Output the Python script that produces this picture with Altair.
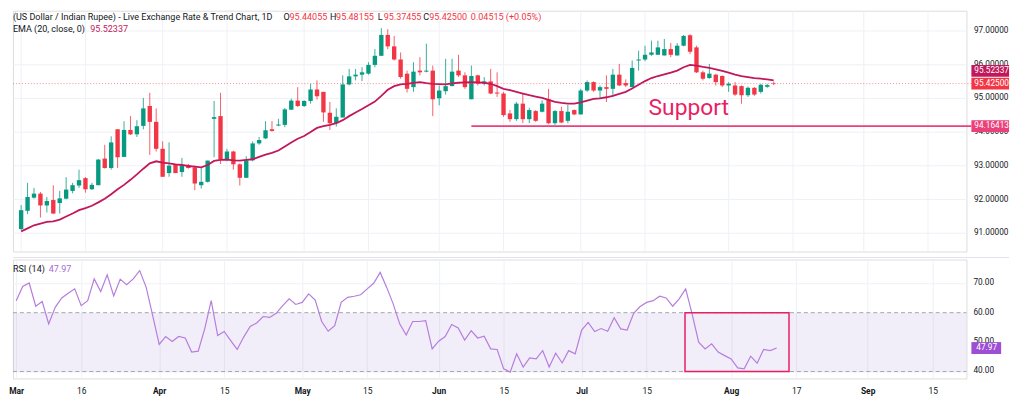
import json
import altair as alt
import pandas as pd

# ---------------- data ----------------
opens = [91.11, 91.65, 92.04, 92.16, 91.81, 91.97, 91.88, 92.01, 92.24, 92.40,
         92.62, 92.29, 92.41, 93.20, 92.92, 94.07, 93.25, 94.05, 93.92, 94.17,
         94.76, 94.29, 93.49, 92.77, 93.02, 92.80, 93.00, 92.94, 92.41, 92.51,
         94.38, 94.46, 93.18, 93.41, 93.03, 92.63, 93.15, 93.65, 93.80, 94.07,
         94.18, 94.20, 94.65, 94.92, 94.76, 94.91, 95.25, 95.18, 94.56, 94.25,
         94.42, 95.40, 95.64, 95.69, 95.72, 95.98, 96.25, 96.87, 96.53, 96.14,
         95.72, 95.32, 95.81, 95.78, 95.81, 94.99, 95.20, 95.35, 95.81, 95.67,
         94.96, 95.67, 95.42, 95.49, 95.16, 95.13, 94.54, 94.37, 94.83, 94.37,
         94.61, 94.59, 94.96, 94.25, 94.61, 94.32, 94.64, 94.51, 95.22, 95.47,
         95.22, 95.32, 95.27, 95.69, 95.44, 95.32, 96.11, 96.14, 96.28, 96.28,
         96.26, 96.45, 96.26, 96.55, 96.86, 96.50, 95.76, 95.59, 95.69, 95.65,
         95.37, 95.37, 95.35, 95.08, 95.30, 95.18, 95.33, 95.44055]
highs = [91.82, 92.48, 92.33, 92.21, 92.06, 92.41, 92.24, 92.65, 92.48, 92.87,
         92.65, 92.48, 93.19, 93.61, 93.86, 94.07, 94.31, 94.46, 94.34, 95.00,
         95.15, 94.69, 93.71, 93.68, 93.04, 93.22, 93.04, 92.99, 92.92, 93.14,
         94.91, 95.15, 93.49, 93.43, 93.06, 93.27, 93.71, 93.84, 94.31, 94.31,
         94.38, 94.70, 94.98, 95.32, 94.93, 95.42, 95.52, 95.18, 94.88, 94.69,
         95.67, 95.86, 95.86, 95.91, 96.06, 96.45, 97.07, 97.04, 96.84, 96.35,
         95.81, 96.06, 96.21, 96.61, 95.96, 95.37, 96.16, 96.16, 96.28, 95.76,
         95.96, 95.69, 95.62, 95.86, 95.76, 95.18, 94.64, 94.88, 95.13, 94.71,
         94.64, 94.93, 95.27, 94.64, 94.74, 94.79, 94.66, 95.27, 95.52, 95.49,
         95.37, 95.67, 95.86, 96.01, 95.55, 96.11, 96.40, 96.55, 96.70, 96.70,
         96.75, 96.63, 96.63, 96.87, 96.89, 96.55, 95.81, 96.01, 95.72, 95.67,
         95.47, 95.47, 95.37, 95.34, 95.32, 95.42, 95.42, 95.48155]
lows = [91.08, 91.55, 92.01, 91.45, 91.60, 91.55, 91.57, 91.99, 92.17, 92.33,
        92.19, 92.27, 92.41, 92.90, 92.87, 92.92, 93.25, 93.90, 93.84, 94.07,
        93.31, 93.41, 92.66, 92.66, 92.77, 92.66, 92.90, 92.26, 92.31, 92.49,
        93.24, 93.04, 93.12, 92.87, 92.40, 92.63, 93.12, 93.61, 93.78, 94.00,
        94.16, 94.13, 94.65, 94.73, 94.73, 94.83, 94.95, 94.29, 94.05, 94.15,
        94.42, 95.37, 95.52, 95.50, 95.69, 95.91, 96.25, 96.45, 96.11, 95.57,
        95.16, 95.18, 95.67, 95.76, 94.46, 94.78, 95.10, 95.35, 95.62, 95.27,
        94.96, 95.37, 95.37, 95.11, 95.03, 94.44, 94.29, 94.32, 94.25, 94.25,
        94.29, 94.57, 94.22, 94.20, 94.25, 94.25, 94.49, 94.51, 95.18, 95.18,
        94.98, 94.88, 95.03, 95.35, 95.32, 95.32, 95.81, 96.09, 96.25, 96.28,
        96.26, 96.21, 96.26, 96.53, 96.30, 95.74, 95.52, 95.57, 95.37, 95.32,
        95.18, 95.06, 94.83, 95.03, 95.06, 95.13, 95.30, 95.37455]
closes = [91.67, 92.06, 92.16, 91.81, 91.94, 91.57, 92.02, 92.28, 92.41, 92.56,
          92.29, 92.42, 93.17, 92.92, 93.68, 93.24, 94.05, 93.92, 94.16, 94.69,
          94.29, 93.49, 92.66, 92.99, 92.77, 92.99, 92.92, 92.46, 92.51, 93.14,
          94.43, 93.18, 93.41, 93.03, 92.63, 93.15, 93.65, 93.75, 94.04, 94.02,
          94.21, 94.66, 94.92, 94.76, 94.91, 95.25, 95.05, 94.57, 94.25, 94.44,
          95.40, 95.64, 95.69, 95.76, 95.98, 96.25, 96.87, 96.53, 96.14, 95.62,
          95.27, 95.78, 95.76, 95.81, 94.96, 95.22, 95.35, 95.78, 95.67, 95.32,
          95.65, 95.42, 95.49, 95.13, 95.13, 94.49, 94.37, 94.83, 94.37, 94.64,
          94.32, 94.83, 94.25, 94.61, 94.27, 94.59, 94.51, 95.22, 95.47, 95.22,
          95.32, 95.27, 95.69, 95.37, 95.37, 95.89, 96.14, 96.28, 96.35, 96.50,
          96.45, 96.28, 96.55, 96.84, 96.37, 95.76, 95.57, 95.72, 95.47, 95.37,
          95.42, 95.10, 95.08, 95.30, 95.10, 95.39, 95.37985, 95.42500]
ema20 = [91.04, 91.13, 91.22, 91.27, 91.32, 91.34, 91.39, 91.48, 91.57, 91.67,
         91.73, 91.80, 91.90, 92.01, 92.14, 92.29, 92.42, 92.57, 92.73, 92.90,
         93.06, 93.12, 93.08, 93.06, 93.03, 93.01, 92.98, 92.96, 92.94, 93.01,
         93.13, 93.16, 93.17, 93.15, 93.14, 93.16, 93.18, 93.25, 93.32, 93.37,
         93.44, 93.56, 93.68, 93.79, 93.87, 93.99, 94.11, 94.16, 94.20, 94.25,
         94.34, 94.46, 94.57, 94.67, 94.78, 94.89, 95.06, 95.24, 95.35, 95.40,
         95.42, 95.45, 95.47, 95.44, 95.42, 95.41, 95.40, 95.43, 95.45, 95.46,
         95.47, 95.46, 95.45, 95.42, 95.35, 95.27, 95.23, 95.18, 95.13, 95.08,
         95.04, 95.00, 94.94, 94.88, 94.85, 94.83, 94.83, 94.87, 94.92, 94.97,
         94.99, 95.02, 95.06, 95.12, 95.18, 95.28, 95.39, 95.50, 95.59, 95.65,
         95.70, 95.75, 95.81, 95.91, 95.98, 95.96, 95.92, 95.89, 95.85, 95.80,
         95.75, 95.69, 95.65, 95.62, 95.59, 95.57, 95.55, 95.52337]
rsi14 = [64.1, 68.9, 70.1, 62.2, 63.8, 56.2, 61.8, 65.0, 66.6, 68.1,
         62.4, 64.1, 71.5, 67.2, 72.9, 65.7, 71.4, 69.5, 71.5, 74.3,
         68.6, 59.0, 49.2, 51.9, 50.2, 51.9, 51.4, 46.6, 46.9, 54.5,
         64.1, 52.2, 53.6, 50.5, 47.5, 51.7, 55.3, 56.5, 58.7, 58.4,
         59.8, 62.4, 64.7, 62.8, 63.5, 66.4, 64.3, 57.0, 53.7, 55.6,
         63.5, 65.2, 65.6, 66.1, 68.1, 70.0, 73.7, 68.6, 63.0, 56.2,
         52.4, 57.0, 57.0, 57.3, 47.7, 50.3, 51.9, 56.0, 54.8, 50.7,
         53.9, 51.4, 52.0, 47.7, 47.5, 40.9, 39.8, 46.0, 41.5, 44.6,
         44.3, 47.1, 41.5, 46.2, 42.9, 47.1, 46.0, 54.1, 56.7, 53.6,
         54.6, 53.7, 58.3, 54.5, 54.1, 59.8, 62.1, 63.5, 64.1, 65.6,
         65.0, 62.2, 64.7, 68.1, 59.5, 50.0, 47.7, 49.4, 46.6, 45.4,
         44.3, 41.2, 40.9, 45.2, 42.8, 47.5, 47.1, 47.97]

tick_idx = [0, 10, 22, 32, 44, 54, 65, 75, 87, 97, 110, 120, 131, 141]
tick_lbl = ["Mar", "16", "Apr", "15", "May", "15", "Jun", "15", "Jul", "15",
            "Aug", "17", "Sep", "15"]
month_names = ["Mar", "Apr", "May", "Jun", "Jul", "Aug", "Sep"]
price_ticks = [91, 92, 93, 94, 95, 96, 97]
rsi_ticks = [40, 50, 60, 70]
rsi_levels = [60, 40]
support_level = 94.16413
support_start = 70
support_text_pos = (103.8, 94.71)
rsi_box = (102.9, 118.9, 40, 60)
title_text = "(US Dollar / Indian Rupee) - Live Exchange Rate & Trend Chart, 1D"

# ---------------- styling ----------------
UP, DOWN = "#089981", "#F23645"
EMA_C = "#C2185B"
SUP_C = "#EC407A"
RSI_C = "#B57EDC"
RSI_BOX = "#9C4FD3"
TXT = "#131722"
GRID = "#EEF1F6"
FONT = "Roboto"
W, H_MAIN, H_RSI = 962, 243, 120
XDOM = [-0.5, 146.2]
BOX_X0, BOX_X1 = 967, 1005
HDR = 9.1
AXF = 8.3

n = len(closes)
df = pd.DataFrame({"i": list(range(n)), "open": opens, "high": highs,
                   "low": lows, "close": closes, "ema": ema20, "rsi": rsi14})
df["dir"] = ["up" if c >= o else "down" for o, c in zip(opens, closes)]
one = pd.DataFrame({"k": [0]})
ticks_df = pd.DataFrame({"t": tick_idx})
rsi_tick_df = pd.DataFrame({"v": rsi_ticks, "lbl": [f"{v:.2f}" for v in rsi_ticks]})

xs = alt.Scale(domain=XDOM, nice=False, zero=False)
ys = alt.Scale(domain=[90.441, 97.588], nice=False, zero=False)
rs = alt.Scale(domain=[37.64, 78.09], nice=False, zero=False)
col = alt.Color("dir:N", scale=alt.Scale(domain=["up", "down"], range=[UP, DOWN]), legend=None)

y_main_axis = alt.Axis(orient="right", values=price_ticks, format=".5f", ticks=False,
                       domain=False, grid=True, gridColor=GRID, labelFontSize=AXF,
                       labelColor=TXT, labelPadding=7, labelFont=FONT, labelOverlap=False)


def txt(s, x, y, color=TXT, size=HDR, weight="normal"):
    return alt.Chart(one).mark_text(text=s, align="left", baseline="middle", font=FONT,
                                    fontSize=size, color=color, fontWeight=weight).encode(
        x=alt.value(x), y=alt.value(y))


vgrid = alt.Chart(ticks_df).mark_rule(color=GRID, strokeWidth=1).encode(
    x=alt.X("t:Q", scale=xs, axis=None), y=alt.value(0), y2=alt.value(H_MAIN))
wicks = alt.Chart(df).mark_rule(strokeWidth=1, opacity=0.8).encode(
    x=alt.X("i:Q", scale=xs, axis=None), y=alt.Y("low:Q", scale=ys, axis=y_main_axis, title=None),
    y2="high:Q", color=col)
bodies = alt.Chart(df).mark_bar(size=4.4).encode(
    x=alt.X("i:Q", scale=xs), y=alt.Y("open:Q", scale=ys, title=None), y2="close:Q", color=col)
ema_line = alt.Chart(df).mark_line(color=EMA_C, strokeWidth=1.8).encode(
    x=alt.X("i:Q", scale=xs), y=alt.Y("ema:Q", scale=ys, title=None))

last_close = closes[-1]
last_ema = ema20[-1]
close_line = alt.Chart(one).mark_rule(color=DOWN, strokeDash=[1, 2], opacity=0.6, strokeWidth=1).encode(
    y=alt.datum(last_close), x=alt.value(0), x2=alt.value(BOX_X0))
support_line = alt.Chart(one).mark_rule(color=SUP_C, strokeWidth=1.7).encode(
    x=alt.datum(support_start), x2=alt.value(BOX_X0), y=alt.datum(support_level))
support_txt = alt.Chart(one).mark_text(text="Support", font=FONT, fontSize=23, color="#E91E63",
                                       align="center", baseline="middle").encode(
    x=alt.datum(support_text_pos[0]), y=alt.datum(support_text_pos[1]))


def price_box(value, label, color, offset=0):
    r = alt.Chart(one).mark_rule(strokeWidth=12, strokeCap="butt", color=color, yOffset=offset).encode(
        y=alt.datum(value), x=alt.value(BOX_X0), x2=alt.value(BOX_X1))
    t = alt.Chart(one).mark_text(text=label, color="white", font=FONT, fontSize=AXF,
                                 align="left", baseline="middle", yOffset=offset).encode(
        y=alt.datum(value), x=alt.value(BOX_X0 + 3))
    return [r, t]


ohlc = [("O", opens[-1]), ("H", highs[-1]), ("L", lows[-1]), ("C", closes[-1])]
chg = closes[-1] - closes[-2]
pct = chg / closes[-2] * 100
hdr_x = [273, 320, 368, 414]
L1, L2 = 6.5, 18
header = [txt(title_text, 0, L1)]
for (k, v), hx in zip(ohlc, hdr_x):
    header.append(txt(k, hx, L1))
    header.append(txt(f"{v:.5f}", hx + 6, L1, color=DOWN))
header.append(txt(f"{chg:.5f} (+{pct:.2f}%)", 462, L1, color=DOWN))
header.append(txt("EMA (20, close, 0)", 0, L2))
header.append(txt(f"{last_ema:.5f}", 78, L2, color=EMA_C))

main = alt.layer(
    vgrid, wicks, bodies, ema_line, close_line, support_line, support_txt,
    *price_box(support_level, f"{support_level:.5f}", SUP_C),
    *price_box(last_close, f"{last_close:.5f}", DOWN),
    *price_box(last_ema, f"{last_ema:.5f}", EMA_C, offset=-9.5),
    *header,
).properties(width=W, height=H_MAIN)

# ---------------- RSI panel ----------------
month_idx = [i for i, l in zip(tick_idx, tick_lbl) if l in month_names]
label_expr = f"{json.dumps(tick_lbl)}[indexof({json.dumps(tick_idx)}, datum.value)]"
x_rsi_axis = alt.Axis(values=tick_idx, labelExpr=label_expr, ticks=False, domain=False,
                      grid=True, gridColor=GRID, labelFontSize=8.5, labelColor=TXT,
                      labelPadding=8, labelFlush=False, labelFont=FONT, labelOverlap=False,
                      labelFontWeight={"condition": {"test": f"indexof({json.dumps(month_idx)}, datum.value) >= 0",
                                                     "value": "bold"}, "value": "normal"})
rsi_axis = alt.Axis(orient="right", values=rsi_ticks, labels=False, ticks=False, domain=False,
                    grid=True, gridColor=GRID)

rsi_grid = alt.Chart(rsi_tick_df).mark_point(opacity=0).encode(
    y=alt.Y("v:Q", scale=rs, axis=rsi_axis, title=None),
    x=alt.X("v:Q", scale=xs, axis=x_rsi_axis, title=None))
band = alt.Chart(one).mark_rect(color="#7E57C2", opacity=0.1).encode(
    y=alt.datum(rsi_levels[0]), y2=alt.datum(rsi_levels[1]), x=alt.value(0), x2=alt.value(W))
level_lines = [alt.Chart(one).mark_rule(color="#A3A6AF", strokeDash=[4, 3], strokeWidth=1).encode(
    y=alt.datum(lv), x=alt.value(0), x2=alt.value(W)) for lv in rsi_levels]
rsi_labels = alt.Chart(rsi_tick_df).mark_text(align="left", baseline="middle", font=FONT,
                                              fontSize=AXF, color=TXT).encode(
    y=alt.Y("v:Q", scale=rs), x=alt.value(W + 7), text="lbl:N")
rsi_line = alt.Chart(df).mark_line(color=RSI_C, strokeWidth=1.2).encode(
    x=alt.X("i:Q", scale=xs), y=alt.Y("rsi:Q", scale=rs))
hl_box = alt.Chart(one).mark_rect(fillOpacity=0, stroke="#E91E63", strokeWidth=1.5).encode(
    x=alt.datum(rsi_box[0]), x2=alt.datum(rsi_box[1]), y=alt.datum(rsi_box[3]), y2=alt.datum(rsi_box[2]))
sep = alt.Chart(one).mark_rule(color="#E0E3EB", strokeWidth=1).encode(
    y=alt.value(-2), x=alt.value(0), x2=alt.value(BOX_X1))
rsi_last = rsi14[-1]
rsi_box_r = alt.Chart(one).mark_rule(strokeWidth=12, strokeCap="butt", color=RSI_BOX).encode(
    y=alt.datum(rsi_last), x=alt.value(BOX_X0), x2=alt.value(997))
rsi_box_t = alt.Chart(one).mark_text(text=f"{rsi_last:.2f}", color="white", font=FONT, fontSize=AXF,
                                     align="left", baseline="middle").encode(
    y=alt.datum(rsi_last), x=alt.value(BOX_X0 + 5))

rsi = alt.layer(
    rsi_grid, band, *level_lines, rsi_labels, rsi_line, hl_box, sep, rsi_box_r, rsi_box_t,
    txt("RSI (14)", 0, 10), txt(f"{rsi_last:.2f}", 36, 10, color="#A56BD6"),
).properties(width=W, height=H_RSI)

chart = alt.vconcat(main, rsi, spacing=4).properties(padding=0).configure_view(
    stroke="transparent").configure(font=FONT)

chart.save("out.html", embed_options={"renderer": "svg", "actions": False})
